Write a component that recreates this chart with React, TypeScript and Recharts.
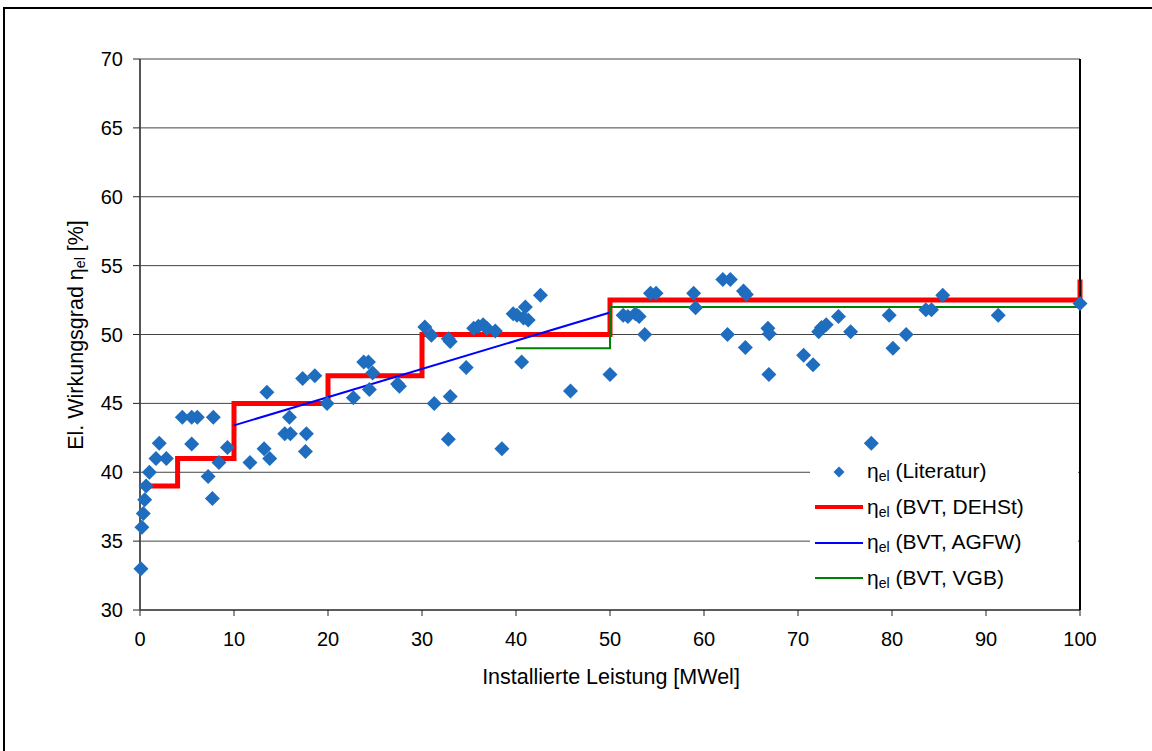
import React from 'react';
import { ComposedChart, Scatter, Line, XAxis, YAxis, CartesianGrid, Legend, Label } from 'recharts';

const FONT = '"Liberation Sans", Arial, Helvetica, sans-serif';

// Literature values (installed power MWel, electrical efficiency %)
const literaturX = [
  0.1, 0.2, 0.35, 0.5, 0.65, 1.0, 1.7, 2.05, 2.8, 4.5, 5.5, 6.1, 7.8, 5.5, 7.25, 7.7, 8.4, 9.3,
  11.7, 13.2, 13.5, 13.8, 15.4, 16.0, 15.9, 17.3, 17.6, 17.7, 18.6, 19.9,
  22.7, 23.8, 24.3, 24.75, 24.4, 27.4, 27.6,
  30.3, 31.0, 32.8, 33.0, 31.3, 33.0, 32.8, 34.7, 35.5, 36.0, 36.5, 36.9, 37.8, 38.5,
  39.7, 40.1, 40.8, 41.0, 41.3, 40.6, 42.6, 45.8,
  50.0, 51.4, 51.9, 52.7, 53.1, 53.7, 54.3, 54.9, 58.9, 59.1,
  62.0, 62.8, 62.5, 64.2, 64.5, 64.4, 66.8, 66.95, 66.9,
  70.6, 71.6, 72.2, 72.5, 73.0, 74.3, 75.6, 77.8, 79.7,
  80.1, 81.5, 83.6, 84.2, 85.4, 91.3, 100,
];
const literaturY = [
  33.0, 36.0, 37.0, 38.0, 39.0, 40.0, 41.0, 42.1, 41.0, 44.0, 44.0, 44.0, 44.0, 42.05, 39.7, 38.1, 40.7, 41.8,
  40.7, 41.7, 45.8, 41.0, 42.8, 42.8, 44.0, 46.8, 41.5, 42.8, 47.0, 45.0,
  45.4, 48.0, 48.0, 47.2, 46.0, 46.4, 46.25,
  50.55, 49.95, 49.7, 49.5, 45.0, 45.5, 42.4, 47.6, 50.45, 50.6, 50.7, 50.45, 50.25, 41.7,
  51.5, 51.4, 51.2, 52.0, 51.05, 48.0, 52.85, 45.9,
  47.1, 51.4, 51.3, 51.5, 51.3, 50.0, 53.0, 53.0, 53.0, 51.95,
  54.0, 54.0, 50.0, 53.15, 52.9, 49.05, 50.45, 50.05, 47.1,
  48.5, 47.8, 50.2, 50.5, 50.7, 51.3, 50.2, 42.1, 51.4,
  49.0, 50.0, 51.8, 51.8, 52.85, 51.4, 52.25,
];

// BVT DEHSt step values
const dehstX = [0, 4, 4, 10, 10, 20, 20, 30, 30, 50, 50, 100, 100];
const dehstY = [39, 39, 41, 41, 45, 45, 47, 47, 50, 50, 52.5, 52.5, 54];

// BVT AGFW
const agfwX = [10, 50];
const agfwY = [43.4, 51.6];

// BVT VGB
const vgbX = [40, 50, 50, 100];
const vgbY = [49, 49, 52, 52];

const xTicks = [0, 10, 20, 30, 40, 50, 60, 70, 80, 90, 100];
const yTicks = [30, 35, 40, 45, 50, 55, 60, 65, 70];

const legendLabels = ['(Literatur)', '(BVT, DEHSt)', '(BVT, AGFW)', '(BVT, VGB)'];

const zip = (xs: number[], ys: number[]) => xs.map((x, i) => ({ x, y: ys[i] }));

const literaturData = zip(literaturX, literaturY);
const dehstData = zip(dehstX, dehstY);
const agfwData = zip(agfwX, agfwY);
const vgbData = zip(vgbX, vgbY);

const POINT = '#1f6dbf';
const RED = '#ff0000';
const BLUE = '#0000ff';
const GREEN = '#008000';

const Diamond = (props: any) => {
  const { cx, cy } = props;
  if (cx == null || cy == null) return null;
  const r = 7.5;
  return <path d={`M${cx},${cy - r}L${cx + r},${cy}L${cx},${cy + r}L${cx - r},${cy}Z`} fill={POINT} />;
};

const YTitle = () => (
  <text
    transform="translate(76,335) rotate(-90)"
    textAnchor="middle"
    dominantBaseline="central"
    fontSize={21.5}
    fontFamily={FONT}
    fill="#000"
  >
    El. Wirkungsgrad η<tspan fontSize={14} dy={4}>el</tspan>
    <tspan dy={-4}> [%]</tspan>
  </text>
);

const XTitle = () => (
  <text x={611} y={677} textAnchor="middle" dominantBaseline="central" fontSize={21.5} fontFamily={FONT} fill="#000">
    Installierte Leistung [MWel]
  </text>
);

const legendIcons = [
  <svg width={48} height={14} key="i0"><path d="M24,1.5L29.5,7L24,12.5L18.5,7Z" fill={POINT} /></svg>,
  <svg width={48} height={14} key="i1"><line x1={0} y1={7} x2={48} y2={7} stroke={RED} strokeWidth={4} /></svg>,
  <svg width={48} height={14} key="i2"><line x1={0} y1={7} x2={48} y2={7} stroke={BLUE} strokeWidth={2} /></svg>,
  <svg width={48} height={14} key="i3"><line x1={0} y1={7} x2={48} y2={7} stroke={GREEN} strokeWidth={2} /></svg>,
];

const LegendBox = () => (
  <div style={{ fontFamily: FONT, fontSize: 21, color: '#000', textAlign: 'left', paddingTop: 2 }}>
    {legendLabels.map((lab, i) => (
      <div key={lab} style={{ display: 'flex', alignItems: 'center', height: 35.5, whiteSpace: 'nowrap' }}>
        <div style={{ marginLeft: 5, width: 48, height: 14, display: 'flex' }}>{legendIcons[i]}</div>
        <span style={{ marginLeft: 4 }}>
          η<sub style={{ fontSize: 14, verticalAlign: '-3px' }}>el</sub> {lab}
        </span>
      </div>
    ))}
  </div>
);

export default function App() {
  return (
    <div style={{ position: 'absolute', left: 0, top: 0, width: 1152, height: 751, background: '#fff' }}>
      <div
        style={{
          position: 'absolute',
          left: 3,
          top: 7,
          width: 1160,
          height: 760,
          borderLeft: '2.5px solid #000',
          borderTop: '2.5px solid #000',
          boxSizing: 'border-box',
        }}
      />
      <div style={{ position: 'absolute', left: 0, top: 0 }}>
        <ComposedChart width={1152} height={751} margin={{ top: 59, right: 62, bottom: 111, left: 80 }}>
          <CartesianGrid vertical={false} stroke="#444" strokeWidth={1} />
          <XAxis
            type="number"
            dataKey="x"
            domain={[0, 100]}
            ticks={xTicks}
            interval={0}
            height={30}
            tickSize={6}
            tickMargin={16}
            axisLine={{ stroke: '#444', strokeWidth: 1.5 }}
            tickLine={{ stroke: '#222' }}
            tick={{ fill: '#000', fontSize: 20, fontFamily: FONT }}
          >
            <Label content={XTitle} />
          </XAxis>
          <YAxis
            type="number"
            domain={[30, 70]}
            ticks={yTicks}
            interval={0}
            width={60}
            tickSize={7}
            tickMargin={10}
            axisLine={{ stroke: '#555', strokeWidth: 2 }}
            tickLine={{ stroke: '#222' }}
            tick={{ fill: '#000', fontSize: 20, fontFamily: FONT }}
          >
            <Label content={YTitle} />
          </YAxis>
          <YAxis
            yAxisId="right"
            orientation="right"
            type="number"
            domain={[30, 70]}
            ticks={yTicks}
            interval={0}
            width={10}
            tickSize={7}
            tick={false}
            axisLine={{ stroke: '#000', strokeWidth: 2 }}
            tickLine={{ stroke: '#000' }}
          />
          <Legend
            layout="horizontal"
            align="center"
            verticalAlign="middle"
            content={LegendBox}
            wrapperStyle={{ left: 810, top: 452, width: 268, height: 157, background: '#fff' }}
          />
          <Scatter data={literaturData} dataKey="y" shape={Diamond} isAnimationActive={false} />
          <Line
            data={dehstData}
            dataKey="y"
            type="linear"
            stroke={RED}
            strokeWidth={5}
            strokeLinejoin="miter"
            strokeLinecap="butt"
            dot={false}
            activeDot={false}
            isAnimationActive={false}
          />
          <Line
            data={agfwData}
            dataKey="y"
            type="linear"
            stroke={BLUE}
            strokeWidth={2}
            dot={false}
            activeDot={false}
            isAnimationActive={false}
          />
          <Line
            data={vgbData}
            dataKey="y"
            type="linear"
            stroke={GREEN}
            strokeWidth={2}
            strokeLinejoin="miter"
            dot={false}
            activeDot={false}
            isAnimationActive={false}
          />
        </ComposedChart>
      </div>
    </div>
  );
}
